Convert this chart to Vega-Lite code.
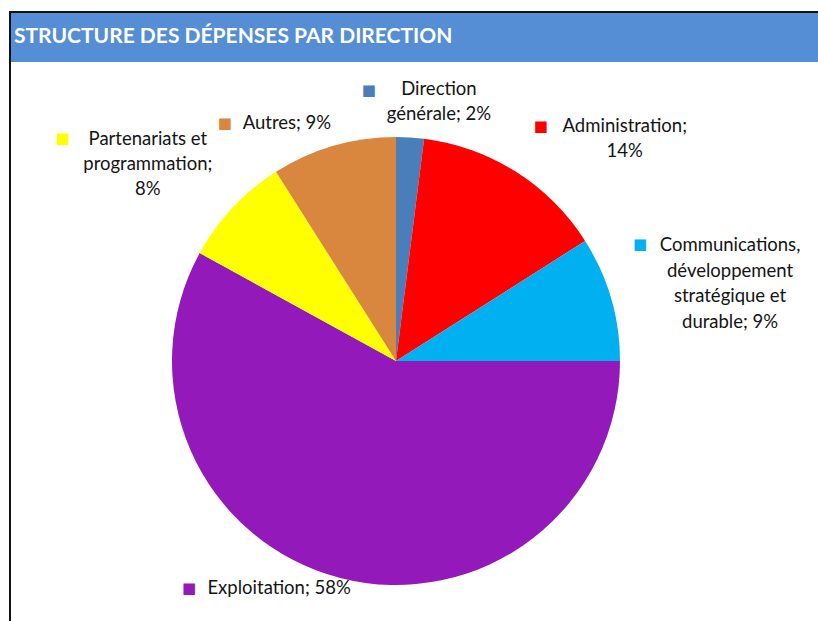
{
  "$schema": "https://vega.github.io/schema/vega-lite/v6.json",
  "background": "white",
  "padding": {"left": 9, "top": 6, "right": 0, "bottom": 0},
  "config": {"view": {"stroke": null}, "font": "Lato"},
  "datasets": {
    "depenses": [
      {"direction": "Direction générale", "label": "Direction\ngénérale; 2%", "valeur": 2, "ordre": 1},
      {"direction": "Administration", "label": "Administration;\n14%", "valeur": 14, "ordre": 2},
      {"direction": "Communications, développement stratégique et durable", "label": "Communications,\ndéveloppement\nstratégique et\ndurable; 9%", "valeur": 9, "ordre": 3},
      {"direction": "Exploitation", "label": "Exploitation; 58%", "valeur": 58, "ordre": 4},
      {"direction": "Partenariats et programmation", "label": "Partenariats et\nprogrammation;\n8%", "valeur": 8, "ordre": 5},
      {"direction": "Autres", "label": "Autres; 9%", "valeur": 9, "ordre": 6}
    ]
  },
  "hconcat": [
    {
      "width": 2,
      "height": 615,
      "data": {"values": [{}]},
      "mark": {"type": "text", "text": ""},
      "encoding": {},
      "view": {"fill": "#111111", "stroke": null}
    },
    {
      "vconcat": [
        {
          "width": 807,
          "height": 2,
          "data": {"values": [{}]},
          "mark": {"type": "text", "text": ""},
          "encoding": {},
          "view": {"fill": "#111111", "stroke": null}
        },
        {
          "width": 807,
          "height": 49,
          "data": {"values": [{"titre": "STRUCTURE DES DÉPENSES PAR DIRECTION"}]},
          "mark": {"type": "text", "align": "left", "baseline": "middle", "x": 3, "dy": -1, "font": "Lato", "fontWeight": "bold", "fontSize": 21, "color": "white"},
          "encoding": {"text": {"field": "titre", "type": "nominal"}},
          "view": {"fill": "#558ED5", "stroke": null}
        },
        {
          "width": 807,
          "height": 38,
          "data": {"values": [{}]},
          "mark": {"type": "text", "text": ""},
          "encoding": {},
          "view": {"fill": null, "stroke": null}
        },
        {
          "width": 770,
          "height": 522,
          "data": {"name": "depenses"},
          "transform": [
            {"stack": "valeur", "groupby": [], "sort": [{"field": "ordre", "order": "ascending"}], "as": ["debut", "fin"]}
          ],
          "encoding": {
            "theta": {"field": "debut", "type": "quantitative", "stack": null, "scale": {"domain": [0, 100]}},
            "color": {
              "field": "direction",
              "type": "nominal",
              "legend": null,
              "scale": {
                "domain": ["Direction générale", "Administration", "Communications, développement stratégique et durable", "Exploitation", "Partenariats et programmation", "Autres"],
                "range": ["#4A7EBB", "#FF0000", "#00B0F0", "#9419BB", "#FFFF00", "#D9863F"]
              }
            }
          },
          "layer": [
            {"mark": {"type": "arc", "outerRadius": 224}, "encoding": {"theta2": {"field": "fin"}}},

            {"transform": [{"filter": "datum.ordre == 1"}], "mark": {"type": "text", "radius": 263, "thetaOffset": 0.164, "align": "center", "baseline": "middle", "dy": -12.5, "lineBreak": "\n", "lineHeight": 25, "fontSize": 18.5}, "encoding": {"text": {"field": "label"}, "color": {"value": "#141414"}}},
            {"transform": [{"filter": "datum.ordre == 2"}], "mark": {"type": "text", "radius": 319, "thetaOffset": 0.674, "align": "center", "baseline": "middle", "dy": -12.5, "lineBreak": "\n", "lineHeight": 25, "fontSize": 18.5}, "encoding": {"text": {"field": "label"}, "color": {"value": "#141414"}}},
            {"transform": [{"filter": "datum.ordre == 3"}], "mark": {"type": "text", "radius": 343, "thetaOffset": 0.337, "align": "center", "baseline": "middle", "dy": -38, "lineBreak": "\n", "lineHeight": 25.5, "fontSize": 18.5}, "encoding": {"text": {"field": "label"}, "color": {"value": "#141414"}}},
            {"transform": [{"filter": "datum.ordre == 4"}], "mark": {"type": "text", "radius": 255, "thetaOffset": 2.047, "align": "center", "baseline": "middle", "lineBreak": "\n", "lineHeight": 25, "fontSize": 18.5}, "encoding": {"text": {"field": "label"}, "color": {"value": "#141414"}}},
            {"transform": [{"filter": "datum.ordre == 5"}], "mark": {"type": "text", "radius": 317, "thetaOffset": 0.169, "align": "center", "baseline": "middle", "dy": -25, "lineBreak": "\n", "lineHeight": 25, "fontSize": 18.5}, "encoding": {"text": {"field": "label"}, "color": {"value": "#141414"}}},
            {"transform": [{"filter": "datum.ordre == 6"}], "mark": {"type": "text", "radius": 262, "thetaOffset": 0.136, "align": "center", "baseline": "middle", "lineBreak": "\n", "lineHeight": 25, "fontSize": 18.5}, "encoding": {"text": {"field": "label"}, "color": {"value": "#141414"}}},

            {"transform": [{"filter": "datum.ordre == 1"}], "mark": {"type": "text", "text": "■", "font": "DejaVu Sans", "fontSize": 15, "radius": 263, "thetaOffset": 0.164, "align": "center", "baseline": "middle", "dx": -70, "dy": -12}},
            {"transform": [{"filter": "datum.ordre == 2"}], "mark": {"type": "text", "text": "■", "font": "DejaVu Sans", "fontSize": 15, "radius": 319, "thetaOffset": 0.674, "align": "center", "baseline": "middle", "dx": -84, "dy": -13}},
            {"transform": [{"filter": "datum.ordre == 3"}], "mark": {"type": "text", "text": "■", "font": "DejaVu Sans", "fontSize": 15, "radius": 343, "thetaOffset": 0.337, "align": "center", "baseline": "middle", "dx": -90, "dy": -39}},
            {"transform": [{"filter": "datum.ordre == 4"}], "mark": {"type": "text", "text": "■", "font": "DejaVu Sans", "fontSize": 15, "radius": 255, "thetaOffset": 2.047, "align": "center", "baseline": "middle", "dx": -90, "dy": 0}},
            {"transform": [{"filter": "datum.ordre == 5"}], "mark": {"type": "text", "text": "■", "font": "DejaVu Sans", "fontSize": 15, "radius": 317, "thetaOffset": 0.169, "align": "center", "baseline": "middle", "dx": -85, "dy": -26}},
            {"transform": [{"filter": "datum.ordre == 6"}], "mark": {"type": "text", "text": "■", "font": "DejaVu Sans", "fontSize": 15, "radius": 262, "thetaOffset": 0.136, "align": "center", "baseline": "middle", "dx": -62, "dy": 0}}
          ],
          "view": {"fill": null, "stroke": null}
        }
      ],
      "spacing": 0,
      "bounds": "flush"
    }
  ],
  "spacing": 0,
  "bounds": "flush"
}
